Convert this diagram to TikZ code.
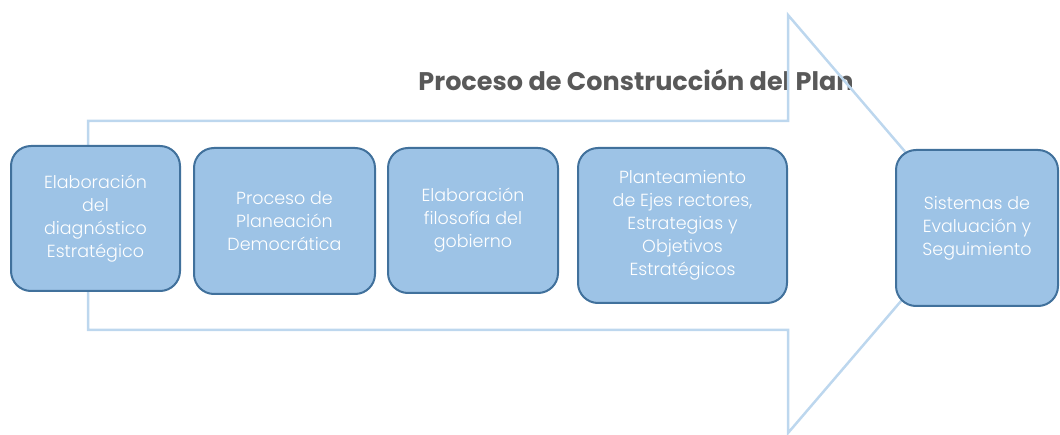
\documentclass[tikz,border=0pt]{standalone}
\usepackage{fontspec}
\setmainfont{Poppins}
\newfontfamily\lightfont{Poppins Light}
\definecolor{boxfill}{HTML}{9DC3E6}
\definecolor{boxborder}{HTML}{41719C}
\definecolor{arrowline}{HTML}{BDD7EE}
\definecolor{titlegray}{HTML}{595959}
\begin{document}
\begin{tikzpicture}[x=1pt,y=-1pt,
  stepbox/.style={draw=boxborder, fill=boxfill, line width=2pt, rounded corners=20pt,
    text=white, align=center, inner sep=0pt,
    font={\lightfont\fontsize{17.5}{23}\selectfont}},
  bigarrow/.style={draw=arrowline, line width=2.5pt, line join=miter}]
\useasboundingbox (0,0) rectangle (1060,435);
\node[font={\bfseries\fontsize{25.5}{28}\selectfont}, text=titlegray] (title) at (636,80) {Proceso de Construcción del Plan};
\draw[bigarrow] (88,121) -- (788,121) -- (788,15) -- (967,224) -- (788,433) -- (788,330) -- (88,330) -- cycle;
\node[stepbox, minimum width=169pt, minimum height=145pt] (b1) at (95.5,218.5) {Elaboración\\del\\diagnóstico\\Estratégico};
\node[stepbox, minimum width=181pt, minimum height=146pt] (b2) at (284.5,221) {Proceso de\\Planeación\\Democrática};
\node[stepbox, minimum width=170pt, minimum height=145pt] (b3) at (473,220.5) {Elaboración\\filosofía del\\gobierno};
\node[stepbox, minimum width=209pt, minimum height=155pt] (b4) at (682.5,225.5) {Planteamiento\\de Ejes rectores,\\Estrategias y\\Objetivos\\Estratégicos};
\node[stepbox, minimum width=162pt, minimum height=156pt] (b5) at (977,228) {Sistemas de\\Evaluación y\\Seguimiento};
\end{tikzpicture}
\end{document}
